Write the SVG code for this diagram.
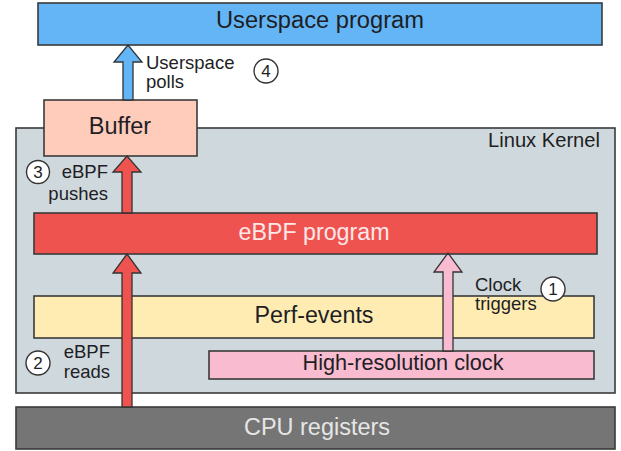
<svg xmlns="http://www.w3.org/2000/svg" width="621" height="451" viewBox="0 0 621 451">
<style>
text{font-family:"Liberation Sans",Arial,sans-serif;fill:#1e1e24}
.box{stroke:#3a3a3a;stroke-width:1.6}
.big{font-size:23px;text-anchor:middle}
.lbl{font-size:18.5px}
.arr{stroke:#333;stroke-width:1.3;stroke-linejoin:miter}
.num{fill:#fff;stroke:#333;stroke-width:1.4}
.numt{font-size:17px;text-anchor:middle}
</style>
<rect width="621" height="451" fill="#fff"/>
<g id="kernel">
<rect class="box" x="16" y="128" width="599" height="265" fill="#cfd8dc"/>
<text x="600" y="147" style="font-size:19.5px" text-anchor="end" textLength="112" lengthAdjust="spacingAndGlyphs">Linux Kernel</text>
</g>
<g id="userspace">
<rect class="box" x="38" y="3" width="564" height="42" fill="#64b5f6"/>
<text class="big" x="320" y="28" textLength="208" lengthAdjust="spacingAndGlyphs">Userspace program</text>
</g>
<g id="buffer">
<rect class="box" x="44" y="100" width="153" height="56" fill="#ffccbc"/>
<text class="big" x="120" y="134" style="font-size:23.5px">Buffer</text>
</g>
<g id="ebpf">
<rect class="box" x="34" y="213" width="563" height="41" fill="#ef5350"/>
<text class="big" x="314" y="240" style="fill:#fde8e8" textLength="151" lengthAdjust="spacingAndGlyphs">eBPF program</text>
</g>
<g id="perf">
<rect class="box" x="34" y="296" width="560" height="42" fill="#ffecb3"/>
<text class="big" x="314" y="323" textLength="119" lengthAdjust="spacingAndGlyphs">Perf-events</text>
</g>
<g id="clock">
<rect class="box" x="209" y="351" width="385" height="28" fill="#f8bbd0"/>
<text class="big" x="403" y="370" style="font-size:22px" textLength="201" lengthAdjust="spacingAndGlyphs">High-resolution clock</text>
</g>
<g id="cpu">
<rect class="box" x="16" y="407" width="599" height="42" fill="#757575"/>
<text class="big" x="317" y="435" style="fill:#e6e6e6" textLength="146" lengthAdjust="spacingAndGlyphs">CPU registers</text>
</g>
<g id="connectors">
<path class="arr" fill="#64b5f6" d="M123,100 L123,62 L114,62 L128,45 L142,62 L133,62 L133,100 Z"/>
<path class="arr" fill="#ef5350" d="M122,213 L122,172 L113,172 L127,156 L141,172 L132,172 L132,213 Z"/>
<path class="arr" fill="#ef5350" d="M122,407 L122,273 L113,273 L127,254 L141,273 L132,273 L132,407 Z"/>
<path class="arr" fill="#f8bbd0" d="M443,351 L443,272 L434,272 L448,253 L462,272 L453,272 L453,351 Z"/>
</g>
<g id="labels">
<text class="lbl" x="146" y="69">Userspace</text>
<text class="lbl" x="146" y="88">polls</text>
<circle class="num" cx="266" cy="71" r="12"/>
<text class="numt" x="266" y="77">4</text>
<text class="lbl" x="108" y="178" text-anchor="end">eBPF</text>
<text class="lbl" x="108" y="200" text-anchor="end">pushes</text>
<circle class="num" cx="38" cy="172" r="11.5"/>
<text class="numt" x="38" y="178">3</text>
<text class="lbl" x="110" y="358" text-anchor="end">eBPF</text>
<text class="lbl" x="110" y="378" text-anchor="end">reads</text>
<circle class="num" cx="38" cy="363" r="12"/>
<text class="numt" x="38" y="369">2</text>
<text class="lbl" x="475" y="291">Clock</text>
<text class="lbl" x="475" y="310">triggers</text>
<circle class="num" cx="553" cy="289" r="12"/>
<text class="numt" x="553" y="295">1</text>
</g>
</svg>
